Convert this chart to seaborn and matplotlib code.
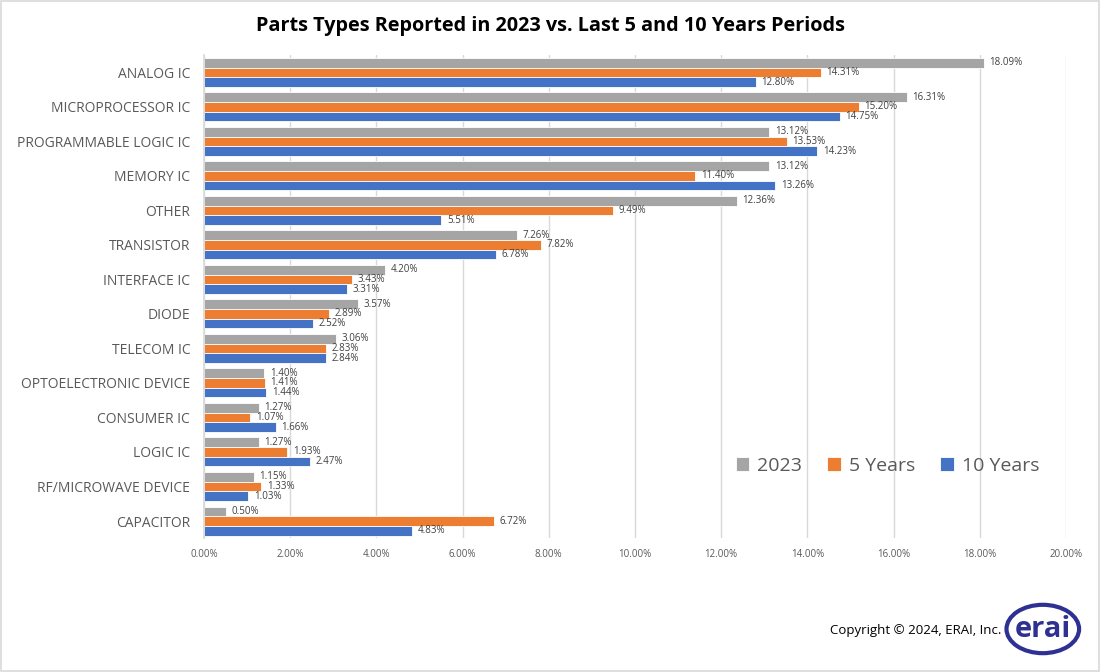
import matplotlib
matplotlib.use("Agg")
import matplotlib.pyplot as plt
import seaborn as sns
import pandas as pd
from matplotlib.patches import Ellipse, Rectangle
from matplotlib.ticker import FuncFormatter

categories = ["ANALOG IC", "MICROPROCESSOR IC", "PROGRAMMABLE LOGIC IC", "MEMORY IC", "OTHER",
              "TRANSISTOR", "INTERFACE IC", "DIODE", "TELECOM IC", "OPTOELECTRONIC DEVICE",
              "CONSUMER IC", "LOGIC IC", "RF/MICROWAVE DEVICE", "CAPACITOR"]
vals_2023 = [18.09, 16.31, 13.12, 13.12, 12.36, 7.26, 4.20, 3.57, 3.06, 1.40, 1.27, 1.27, 1.15, 0.50]
vals_5y = [14.31, 15.20, 13.53, 11.40, 9.49, 7.82, 3.43, 2.89, 2.83, 1.41, 1.07, 1.93, 1.33, 6.72]
vals_10y = [12.80, 14.75, 14.23, 13.26, 5.51, 6.78, 3.31, 2.52, 2.84, 1.44, 1.66, 2.47, 1.03, 4.83]
series = ["2023", "5 Years", "10 Years"]
colors = ["#A5A5A5", "#ED7D31", "#4472C4"]
x_ticks = [0, 2, 4, 6, 8, 10, 12, 14, 16, 18, 20]

rows = []
for name, vals in zip(series, [vals_2023, vals_5y, vals_10y]):
    for c, v in zip(categories, vals):
        rows.append({"Category": c, "Series": name, "Value": v})
df = pd.DataFrame(rows)

sns.set_theme(style="white")
plt.rcParams["font.family"] = ["Open Sans", "DejaVu Sans"]

fig = plt.figure(figsize=(11, 6.72), dpi=100)
ax = fig.add_axes([0.1855, 0.199, 0.7835, 0.719])

sns.barplot(data=df, y="Category", x="Value", hue="Series", order=categories,
            hue_order=series, palette=colors, orient="h", width=0.84,
            edgecolor="white", linewidth=0.6, ax=ax, saturation=1, legend=True)

for cont in ax.containers:
    ax.bar_label(cont, labels=[f"{b.get_width():.2f}%" for b in cont], padding=4,
                 fontsize=7, color="#404040")

ax.set_xlim(0, 20)
ax.set_xticks(x_ticks)
ax.xaxis.set_major_formatter(FuncFormatter(lambda v, p: f"{v:.2f}%"))
ax.tick_params(axis="x", labelsize=7, colors="#595959", length=0, pad=8)
ax.tick_params(axis="y", labelsize=10, colors="#595959", length=0, pad=10)
ax.grid(axis="x", color="#D9D9D9", linewidth=1)
ax.set_axisbelow(True)
for s in ["top", "right", "bottom"]:
    ax.spines[s].set_visible(False)
ax.spines["left"].set_color("#D9D9D9")
ax.set_xlabel("")
ax.set_ylabel("")

leg = ax.legend(loc="center", bbox_to_anchor=(0.793, 0.15), ncol=3, frameon=False,
                fontsize=14, handlelength=0.7, handleheight=0.7, handletextpad=0.4,
                columnspacing=1.3)
for t in leg.get_texts():
    t.set_color("#595959")

fig.text(0.5, 0.962, "Parts Types Reported in 2023 vs. Last 5 and 10 Years Periods",
         ha="center", va="center", fontsize=14.3, fontweight="bold", color="black")
fig.text(0.755, 0.062, "Copyright \u00a9 2024, ERAI, Inc.", ha="left", va="center",
         fontsize=9.5, color="black")

# logo
fig.patches.append(Ellipse((0.948, 0.064), 0.066, 0.072, transform=fig.transFigure,
                           fill=False, edgecolor="#2E3192", linewidth=3))
fig.text(0.948, 0.063, "erai", ha="center", va="center", fontsize=21,
         color="#2E3192", fontweight="bold")

# border
fig.patches.append(Rectangle((0.001, 0.001), 0.998, 0.998, transform=fig.transFigure,
                             fill=False, edgecolor="#D9D9D9", linewidth=1.2))

fig.savefig("out.png", dpi=100)
